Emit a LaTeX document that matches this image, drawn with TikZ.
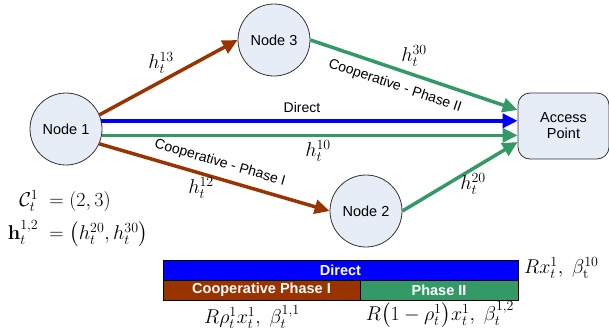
\documentclass[tikz,border=0pt]{standalone}
\usepackage{fix-cm}
\usepackage{amsmath}
\usepackage[no-math]{fontspec}
\setmainfont{Liberation Sans}
\usetikzlibrary{arrows.meta,calc}
\definecolor{nodefill}{RGB}{231,237,247}
\definecolor{cbrown}{RGB}{153,51,0}
\definecolor{cgreen}{RGB}{51,153,102}
\definecolor{cblue}{RGB}{0,0,255}
\begin{document}
\begin{tikzpicture}[x=1pt,y=-1pt,
  circ/.style={circle,draw=black!80,line width=0.8pt,fill=nodefill,minimum size=72pt,inner sep=0pt,font=\fontsize{14.5}{17}\selectfont},
  apbox/.style={rectangle,rounded corners=12pt,draw=black!80,line width=0.8pt,fill=nodefill,minimum width=91pt,minimum height=66pt,align=center,font=\fontsize{14.5}{16}\selectfont},
  edge/.style={line width=3.5pt,-{Triangle[length=15pt,width=14pt]}},
  lab/.style={inner sep=0pt,font=\fontsize{20}{23}\selectfont},
  slab/.style={inner sep=0pt,font=\fontsize{14}{16}\selectfont},
  bar/.style={rectangle,draw=black,line width=0.8pt,inner sep=0pt,minimum height=20pt,text=white,font=\fontsize{14.5}{16}\selectfont\bfseries},
]
\useasboundingbox (0,0) rectangle (609,335);
\node[circ] (n1) at (66,129) {Node 1};
\node[circ] (n3) at (274,40) {Node 3};
\node[circ] (n2) at (366,211) {Node 2};
\node[apbox] (ap) at (563.5,126) {Access\\Point};

\draw[edge,cbrown] (n1.23) -- (n3.west);
\draw[edge,cbrown] (n1.-24) -- (n2.west);
\draw[edge,cblue] (n1.13) -- (n1.13 -| ap.west);
\draw[edge,cgreen] (n1.-10) -- (n1.-10 -| ap.west);
\draw[edge,cgreen] (n3.east) -- ($(ap.west)+(0,-16)$);
\draw[edge,cgreen] (n2.east) -- ($(ap.west)+(0,16)$);

\node[lab] (l13) at (161,63) {$h_t^{13}$};
\node[lab] (l30) at (414,56) {$h_t^{30}$};
\node[slab,rotate=-18.6] (lc2) at (395,86) {Cooperative - Phase II};
\node[slab] (ld) at (302,107) {Direct};
\node[lab] (l10) at (318,151) {$h_t^{10}$};
\node[slab,rotate=-16.2] (lc1) at (220,163) {Cooperative - Phase I};
\node[lab] (l12) at (201,188) {$h_t^{12}$};
\node[lab] (l20) at (473,184) {$h_t^{20}$};

\node[lab] (cset) at (65,201) {$\mathcal{C}_t^1\;=(2,3)$};
\node[lab] (hset) at (78,234) {$\mathbf{h}_t^{1,2}\;=\bigl(h_t^{20},h_t^{30}\bigr)$};

\node[bar,fill=cblue,minimum width=355pt] (bd) at (340.5,270) {Direct};
\node[bar,fill=cbrown,minimum width=197pt] (bc) at (261.5,290) {Cooperative Phase I};
\node[bar,fill=cgreen,minimum width=158pt] (bp) at (439,290) {Phase II};

\node[lab,anchor=west] (rd) at (524,268) {$Rx_t^1,\ \beta_{\mathrm{t}}^{10}$};
\node[lab] (rc) at (252,317) {$R\rho_t^1x_t^1,\ \beta_t^{1,1}$};
\node[lab] (rp) at (440,315) {$R\bigl(1-\rho_t^1\bigr)x_t^1,\ \beta_t^{1,2}$};
\end{tikzpicture}
\end{document}
